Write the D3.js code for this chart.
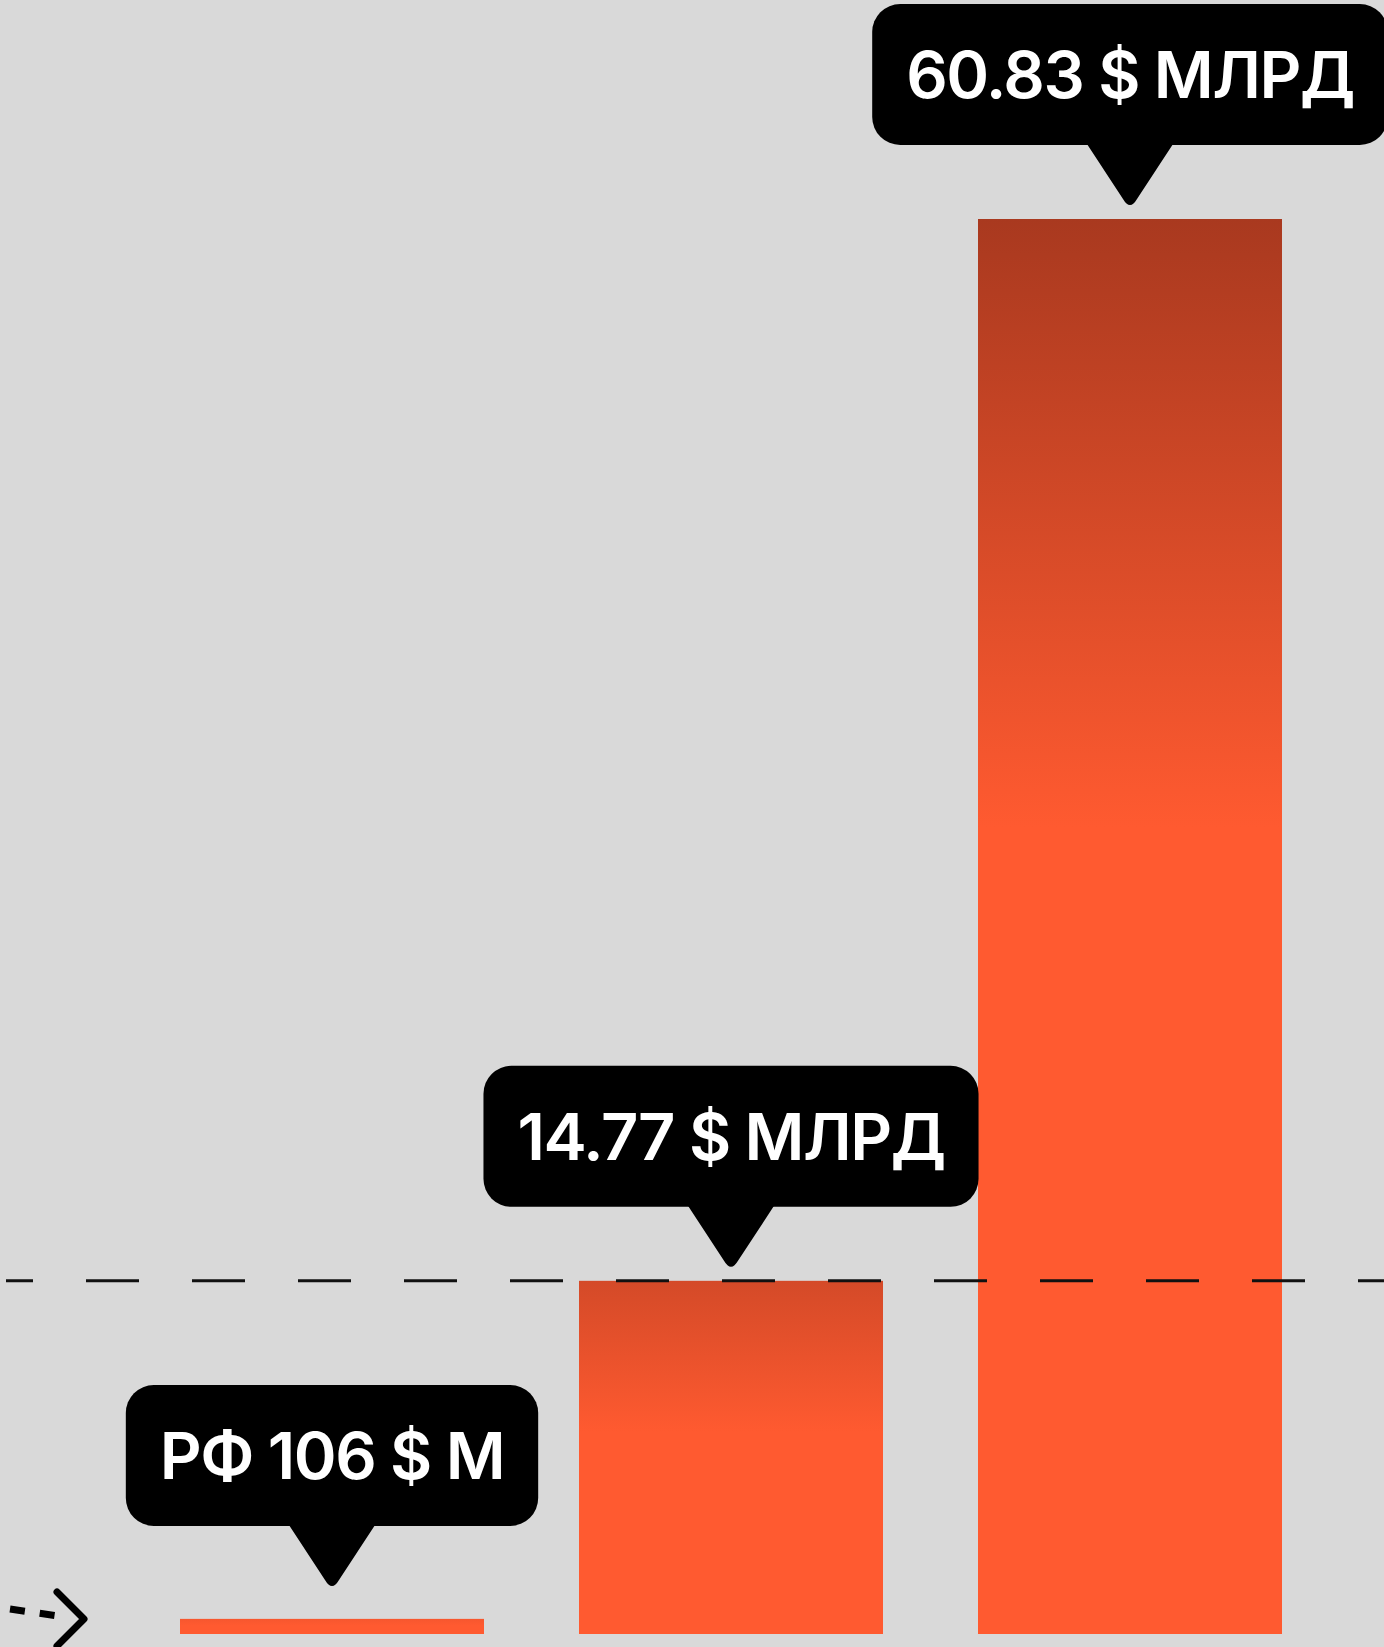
<!DOCTYPE html>
<html>
<head>
<meta charset="utf-8">
<script src="https://cdn.jsdelivr.net/npm/d3@7"></script>
<style>
  html, body { margin: 0; padding: 0; background: #d9d9d9; }
  svg { display: block; }
</style>
</head>
<body>
<svg id="chart" width="1384" height="1647"></svg>
<script>
(function() {

// Data (billions of $)
var labels = ['РФ 106 $ М', '14.77 $ МЛРД', '60.83 $ МЛРД'],
    values = [0.106, 14.77, 60.83],
    refValue = 14.77;

var W = 1384,
    H = 1647,
    baseY = 1634,
    topY = 219,
    barW = 304,
    orange = '#ff5a30',
    dark = '#a9391f',
    fontSize = 65,
    padX = 34,
    boxH = 141,
    tipH = 63,
    tipGap = 11;

var svg = d3.select('#chart');

var x = d3.scalePoint()
    .domain(labels)
    .range([332, 1130]);

// floor a little below zero so the tiny bar still shows
var y = d3.scaleLinear()
    .domain([-0.55, d3.max(values)])
    .range([baseY, topY]);

var data = labels.map(function(l, i) { return { label: l, value: values[i] }; });
var hMax = baseY - y(d3.max(values));

// gradients, darker top on taller bars
var defs = svg.append('defs');
data.forEach(function(d, i) {
  var h = baseY - y(d.value),
      topColor = d3.interpolateRgb(orange, dark)(Math.sqrt(h / hMax));
  var g = defs.append('linearGradient')
      .attr('id', 'grad' + i)
      .attr('x1', 0).attr('y1', 0)
      .attr('x2', 0).attr('y2', 1);
  g.append('stop').attr('offset', 0).attr('stop-color', topColor);
  g.append('stop').attr('offset', 0.43).attr('stop-color', orange);
  g.append('stop').attr('offset', 1).attr('stop-color', orange);
});

// bars
svg.append('g')
  .selectAll('rect')
  .data(data)
  .enter().append('rect')
    .attr('x', function(d) { return x(d.label) - barW / 2; })
    .attr('y', function(d) { return y(d.value); })
    .attr('width', barW)
    .attr('height', function(d) { return baseY - y(d.value); })
    .attr('fill', function(d, i) { return 'url(#grad' + i + ')'; });

// dashed reference line
svg.append('line')
    .attr('x1', 6)
    .attr('x2', W)
    .attr('y1', y(refValue))
    .attr('y2', y(refValue))
    .attr('stroke', '#111')
    .attr('stroke-width', 3)
    .attr('stroke-dasharray', '53,53')
    .attr('stroke-dashoffset', 26);

// tooltips (origin = pointer tip)
var tips = svg.append('g')
  .selectAll('g')
  .data(data)
  .enter().append('g')
    .attr('transform', function(d) {
      var ty = Math.min(y(d.value) - tipGap, baseY - 45);
      return 'translate(' + x(d.label) + ',' + ty + ')';
    });

tips.each(function(d) {
  var g = d3.select(this),
      boxBottom = -tipH,
      boxTop = boxBottom - boxH;

  var rect = g.append('rect')
      .attr('y', boxTop)
      .attr('height', boxH)
      .attr('rx', 28)
      .attr('fill', '#000');

  g.append('path')
      .attr('d', 'M-45,' + (boxBottom - 4) + 'L-7,-9Q0,3 7,-9L45,' + (boxBottom - 4) + 'Z')
      .attr('fill', '#000');

  var t = g.append('text')
      .attr('text-anchor', 'middle')
      .attr('y', boxTop + boxH / 2 + fontSize * 0.727 / 2)
      .attr('fill', '#fff')
      .attr('font-family', 'Inter, "Noto Sans", sans-serif')
      .attr('font-weight', 600)
      .attr('letter-spacing', -1.5)
      .attr('font-size', fontSize)
      .text(d.label);

  var tw = t.node().getComputedTextLength();
  rect.attr('x', -tw / 2 - padX).attr('width', tw + 2 * padX);
});

// arrow at bottom left
var ay = baseY - 15;
svg.append('path')
    .attr('d', 'M10,' + (ay - 10) + 'L58,' + (ay - 3))
    .attr('fill', 'none')
    .attr('stroke', '#000')
    .attr('stroke-width', 7)
    .attr('stroke-dasharray', '15,15');
svg.append('path')
    .attr('d', 'M57,' + (ay - 27) + 'L84,' + ay + 'L57,' + (ay + 27))
    .attr('fill', 'none')
    .attr('stroke', '#000')
    .attr('stroke-width', 7)
    .attr('stroke-linecap', 'round')
    .attr('stroke-linejoin', 'round');

})();
</script>
</body>
</html>
